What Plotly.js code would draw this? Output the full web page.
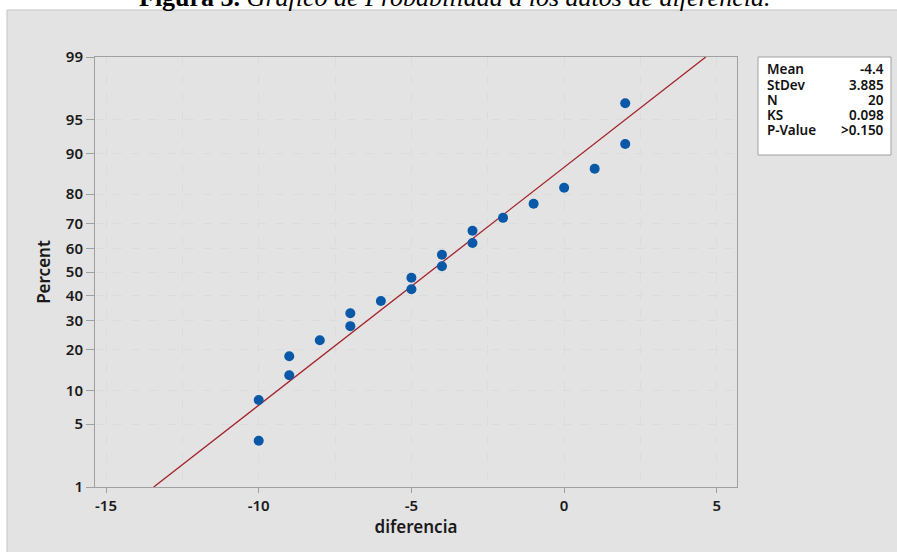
<!DOCTYPE html>
<html>
<head>
<meta charset="utf-8">
<script src="https://cdn.plot.ly/plotly-3.0.1.min.js"></script>
<style>
html,body{margin:0;padding:0;background:#ffffff;}
#chart{width:897px;height:552px;}
</style>
</head>
<body>
<div id="chart"></div>
<script>
// ---- data ----
var diferencia = [-10, -10, -9, -9, -8, -7, -7, -6, -5, -5, -4, -4, -3, -3, -2, -1, 0, 1, 2, 2];
var percent = [3.4, 8.3, 13.2, 18.1, 23.0, 27.9, 32.8, 37.7, 42.6, 47.5, 52.5, 57.4, 62.3, 67.2, 72.1, 77.0, 81.9, 86.8, 91.7, 96.6];
var fitMean = -4.4;
var fitStDev = 3.885;
var fitPercentEnds = [1, 99];
var yTickPercents = [1, 5, 10, 20, 30, 40, 50, 60, 70, 80, 90, 95, 99];
var xTickVals = [-15, -10, -5, 0, 5];
var statsLabels = ["Mean", "StDev", "N", "KS", "P-Value"];
var statsValues = ["-4.4", "3.885", "20", "0.098", "&gt;0.150"];
var titleBold = "Figura 3.";
var titleItalic = "Gráfico de Probabilidad a los datos de diferencia.";
var xTitle = "diferencia";
var yTitle = "Percent";

// inverse standard normal CDF (Acklam)
function probit(p) {
  var a = [-3.969683028665376e+01, 2.209460984245205e+02, -2.759285104469687e+02, 1.383577518672690e+02, -3.066479806614716e+01, 2.506628277459239e+00];
  var b = [-5.447609879822406e+01, 1.615858368580409e+02, -1.556989798598866e+02, 6.680131188771972e+01, -1.328068155288572e+01];
  var c = [-7.784894002430293e-03, -3.223964580411365e-01, -2.400758277161838e+00, -2.549732539343734e+00, 4.374664141464968e+00, 2.938163982698783e+00];
  var d = [7.784695709041462e-03, 3.224671290700398e-01, 2.445134137142996e+00, 3.754408661907416e+00];
  var pl = 0.02425, q, r;
  if (p < pl) {
    q = Math.sqrt(-2 * Math.log(p));
    return (((((c[0]*q+c[1])*q+c[2])*q+c[3])*q+c[4])*q+c[5]) / ((((d[0]*q+d[1])*q+d[2])*q+d[3])*q+1);
  } else if (p <= 1 - pl) {
    q = p - 0.5; r = q*q;
    return (((((a[0]*r+a[1])*r+a[2])*r+a[3])*r+a[4])*r+a[5])*q / (((((b[0]*r+b[1])*r+b[2])*r+b[3])*r+b[4])*r+1);
  } else {
    q = Math.sqrt(-2 * Math.log(1 - p));
    return -(((((c[0]*q+c[1])*q+c[2])*q+c[3])*q+c[4])*q+c[5]) / ((((d[0]*q+d[1])*q+d[2])*q+d[3])*q+1);
  }
}
function pz(pct) { return probit(pct / 100); }

// ---- geometry ----
var W = 897, H = 552;
var mL = 95, mR = 160, mT = 57, mB = 65;
var pw = W - mL - mR, ph = H - mT - mB;
function px(x) { return (x - mL) / pw; }
function py(y) { return (H - mB - y) / ph; }

var fitZ = fitPercentEnds.map(pz);
var fitX = fitZ.map(function (z) { return fitMean + fitStDev * z; });

var traces = [
  {
    x: fitX, y: fitZ, type: 'scatter', mode: 'lines',
    line: {color: '#a3222a', width: 1.3}, hoverinfo: 'skip'
  },
  {
    x: diferencia, y: percent.map(pz), type: 'scatter', mode: 'markers',
    marker: {color: '#0a58a8', size: 10}
  }
];

var tickFont = {family: 'Noto Sans, Open Sans, sans-serif', size: 15, color: '#1a1a1a', weight: 600};
var titleFont = {family: 'Noto Sans, Open Sans, sans-serif', size: 17, color: '#1a1a1a', weight: 600};
var statFont = {family: 'Noto Sans, Open Sans, sans-serif', size: 13.5, color: '#111111', weight: 600};

var annotations = [
  {
    xref: 'paper', yref: 'paper', x: px(454), y: py(-2.5), xanchor: 'center', yanchor: 'middle',
    text: '<b>' + titleBold + '</b> <i>' + titleItalic + '</i>', showarrow: false,
    font: {family: 'Liberation Serif, Times New Roman, serif', size: 26, color: '#000000'}
  }
];
var rowY = [69, 85, 100, 115, 130];
for (var i = 0; i < statsLabels.length; i++) {
  annotations.push({
    xref: 'paper', yref: 'paper', x: px(766), y: py(rowY[i]), xanchor: 'left', yanchor: 'middle',
    text: statsLabels[i], showarrow: false, borderpad: 0, font: statFont
  });
  annotations.push({
    xref: 'paper', yref: 'paper', x: px(885), y: py(rowY[i]), xanchor: 'right', yanchor: 'middle',
    text: statsValues[i], showarrow: false, borderpad: 0, font: statFont
  });
}

var shapes = [
  {
    type: 'rect', xref: 'paper', yref: 'paper', layer: 'below',
    x0: px(7), x1: px(899), y0: py(10), y1: py(560),
    fillcolor: '#e3e3e3', line: {color: '#c4c4c4', width: 1}
  },
  {
    type: 'rect', xref: 'paper', yref: 'paper', layer: 'below',
    x0: px(758), x1: px(891), y0: py(57), y1: py(155),
    fillcolor: '#ffffff', line: {width: 0}
  },
  {
    type: 'rect', xref: 'paper', yref: 'paper', layer: 'above',
    x0: px(758), x1: px(891), y0: py(57), y1: py(155),
    fillcolor: 'rgba(0,0,0,0)', line: {color: '#a0a0a0', width: 1}
  }
];

var layout = {
  width: W, height: H,
  margin: {l: mL, r: mR, t: mT, b: mB, pad: 0},
  paper_bgcolor: '#ffffff',
  plot_bgcolor: '#ffffff',
  showlegend: false,
  xaxis: {
    range: [-15.36, 5.66],
    tickvals: xTickVals,
    ticktext: xTickVals.map(String),
    ticks: 'outside', ticklen: 5, tickcolor: '#a0a0a0',
    showgrid: true, gridcolor: '#dcdcdc', griddash: 'dash', gridwidth: 1,
    minor: {dtick: 2.5, tick0: 0, showgrid: true, gridcolor: '#dcdcdc', griddash: 'dash', ticks: ''},
    zeroline: false,
    showline: true, mirror: true, linecolor: '#a0a0a0', linewidth: 1,
    tickfont: tickFont,
    title: {text: xTitle, font: titleFont, standoff: 6}
  },
  yaxis: {
    range: [pz(1), pz(99)],
    tickvals: yTickPercents.map(pz),
    ticktext: yTickPercents.map(String),
    ticks: 'outside', ticklen: 8, tickcolor: '#a0a0a0',
    showgrid: true, gridcolor: '#dcdcdc', griddash: 'dash', gridwidth: 1,
    zeroline: false,
    showline: true, mirror: true, linecolor: '#a0a0a0', linewidth: 1,
    tickfont: tickFont,
    title: {text: yTitle, font: titleFont, standoff: 10}
  },
  shapes: shapes,
  annotations: annotations
};

Plotly.newPlot('chart', traces, layout, {displayModeBar: false, staticPlot: true});
</script>
</body>
</html>
